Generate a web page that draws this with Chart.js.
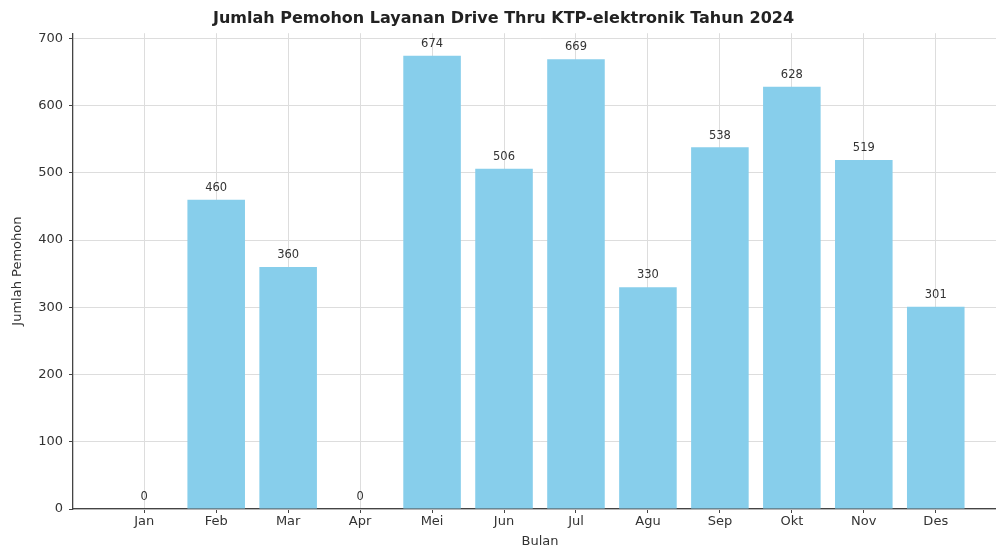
<!doctype html>
<html lang="id">
  <head>
    <meta charset="utf-8">
    <title>Jumlah Pemohon Drive Thru KTP-el 2024</title>
    <style>
      * {
        margin: 0;
        padding: 0;
      }
      body {
        background: #ffffff;
        overflow: hidden;
        width: 996px;
        height: 550px;
      }
    </style>
  </head>
  <body>
    <canvas id="myChart" width="1010" height="550"></canvas>
    <script src="https://cdn.jsdelivr.net/npm/chart.js"></script>
    <script>
    // data
    const months = ['Jan', 'Feb', 'Mar', 'Apr', 'Mei', 'Jun', 'Jul', 'Agu', 'Sep', 'Okt', 'Nov', 'Des'];
    const applicants = [0, 460, 360, 0, 674, 506, 669, 330, 538, 628, 519, 301];
    const yTicks = [0, 100, 200, 300, 400, 500, 600, 700];

    const textColor = '#333333';
    const font = 'DejaVu Sans';

    // value labels above each bar
    const barLabels = {
      id: 'barLabels',
      afterDatasetsDraw(chart) {
        const ctx = chart.ctx;
        const meta = chart.getDatasetMeta(0);
        ctx.save();
        ctx.font = '11.5px "' + font + '"';
        ctx.fillStyle = textColor;
        ctx.textAlign = 'center';
        ctx.textBaseline = 'bottom';
        meta.data.forEach((bar, i) => {
          ctx.fillText(String(applicants[i]), bar.x, bar.y - 6);
        });
        ctx.restore();
      }
    };

    const data = {
      datasets: [{
        label: 'Jumlah Pemohon',
        data: applicants.map((v, i) => ({x: i, y: v})),
        backgroundColor: '#87ceeb',
        borderWidth: 0,
        categoryPercentage: 1,
        barPercentage: 0.8
      }]
    };

    const gridStyle = {
      color: '#dddddd',
      lineWidth: 1,
      borderDash: [1, 2],
      offset: false,
      tickLength: 4,
      tickColor: '#444444',
      tickBorderDash: [],
      tickWidth: 1
    };

    const config = {
      type: 'bar',
      data,
      options: {
        responsive: false,
        animation: false,
        layout: {
          padding: {left: 0, right: 3, top: 0, bottom: 0}
        },
        scales: {
          x: {
            type: 'linear',
            offset: false,
            min: -0.99,
            max: 11.99,
            afterBuildTicks(scale) {
              scale.ticks = months.map((m, i) => ({value: i}));
            },
            afterFit(scale) {
              scale.height = 41;
            },
            ticks: {
              callback: (v) => months[v],
              color: textColor,
              padding: 1,
              maxRotation: 0,
              font: {family: font, size: 13}
            },
            grid: gridStyle,
            border: {display: true, color: '#444444', width: 1.3},
            title: {
              display: true,
              text: 'Bulan',
              color: textColor,
              padding: {top: 0, bottom: 1},
              font: {family: font, size: 13}
            }
          },
          y: {
            min: 0,
            max: 707.7,
            afterBuildTicks(scale) {
              scale.ticks = yTicks.map(v => ({value: v}));
            },
            afterFit(scale) {
              scale.width = 73;
            },
            ticks: {
              color: textColor,
              padding: 6,
              font: {family: font, size: 13}
            },
            grid: gridStyle,
            border: {display: true, color: '#444444', width: 1.3},
            title: {
              display: true,
              text: 'Jumlah Pemohon',
              color: textColor,
              padding: {top: 10, bottom: 0},
              font: {family: font, size: 13}
            }
          }
        },
        plugins: {
          legend: {display: false},
          tooltip: {enabled: false},
          title: {
            display: true,
            text: 'Jumlah Pemohon Layanan Drive Thru KTP-elektronik Tahun 2024',
            color: '#222222',
            padding: {top: 9, bottom: 5},
            font: {family: font, size: 16, weight: 'bold'}
          }
        }
      },
      plugins: [barLabels]
    };

    const myChart = new Chart(document.getElementById('myChart'), config);
    </script>
  </body>
</html>
